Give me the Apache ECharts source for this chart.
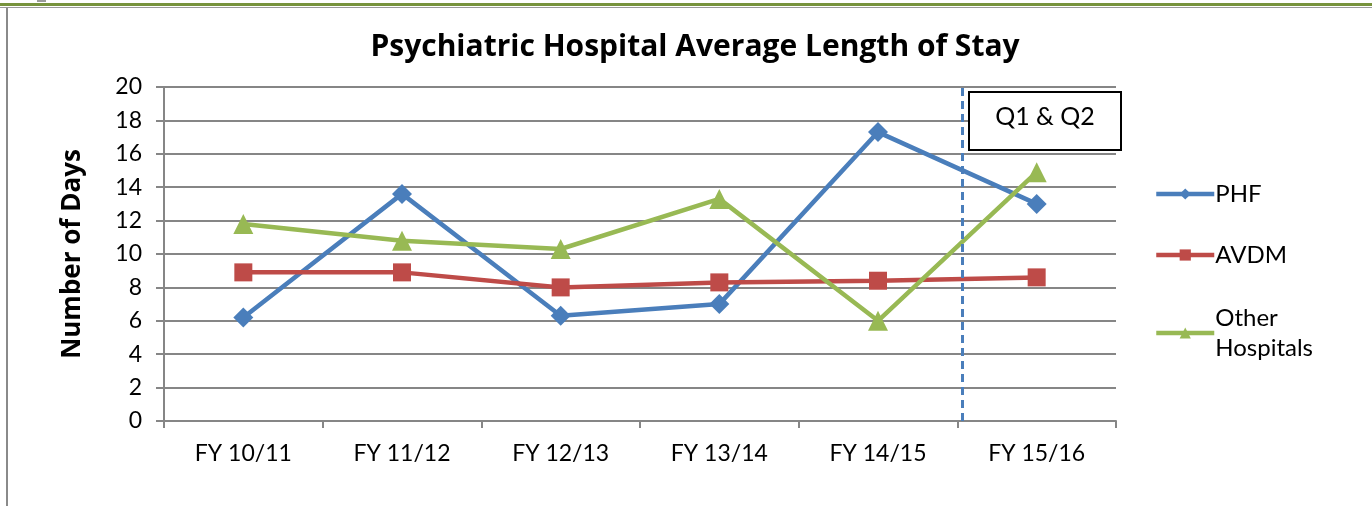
<!DOCTYPE html>
<html>
<head>
  <meta charset="utf-8">
  <title>Psychiatric Hospital Average Length of Stay</title>
  <script src="https://cdn.jsdelivr.net/npm/echarts@6/dist/echarts.min.js"></script>
  <style>
    html, body { margin: 0; padding: 0; background: #fff; }
    #chart { width: 1372px; height: 506px; }
  </style>
</head>
<body>
<div id="chart"></div>
<script>
  // data
  var categories = ['FY 10/11', 'FY 11/12', 'FY 12/13', 'FY 13/14', 'FY 14/15', 'FY 15/16'];
  var phf = [6.2, 13.6, 6.3, 7.0, 17.3, 13.0];
  var avdm = [8.9, 8.9, 8.0, 8.3, 8.4, 8.6];
  var otherHospitals = [11.8, 10.8, 10.3, 13.3, 6.0, 14.9];
  var dividerAt = 5.03; // between FY 14/15 and FY 15/16, on a 0..6 scale

  var font = 'Lato, "DejaVu Sans", sans-serif';
  var boldFont = '"Open Sans", Lato, sans-serif';

  var chart = echarts.init(document.getElementById('chart'));

  function lineSeries(name, data, color, symbol, size) {
    return {
      name: name,
      type: 'line',
      data: data,
      symbol: symbol,
      symbolSize: size,
      lineStyle: { width: 4.5, color: color },
      itemStyle: { color: color },
      animation: false
    };
  }

  // one legend block per series so "Other Hospitals" can hang below its icon
  function legendAt(name, top, padTop) {
    return {
      orient: 'vertical',
      left: 1149,
      top: top,
      itemWidth: 58,
      itemHeight: 14,
      lineStyle: { width: 4.5 },
      textStyle: {
        fontFamily: font, fontSize: 24, color: '#000',
        lineHeight: 30, padding: [padTop, 0, 0, -4]
      },
      data: [name]
    };
  }

  var option = {
    animation: false,
    title: {
      text: 'Psychiatric Hospital Average Length of Stay',
      left: 690,
      textAlign: 'center',
      top: 27,
      textStyle: { fontFamily: boldFont, fontSize: 30, fontWeight: 'bold', color: '#000' }
    },
    grid: { left: 164, right: 256, top: 87, bottom: 85 },
    legend: [
      legendAt('PHF', 174, 0),
      legendAt('AVDM', 235, 0),
      legendAt('Other\nHospitals', 283, 30)
    ],
    xAxis: [{
      type: 'category',
      data: categories,
      boundaryGap: true,
      axisLine: { lineStyle: { color: '#868686', width: 2 } },
      axisTick: { show: true, length: 7, lineStyle: { color: '#868686', width: 2 } },
      axisLabel: { fontFamily: font, fontSize: 23, color: '#000', margin: 21 }
    }, {
      type: 'value',
      min: 0,
      max: 6,
      show: false
    }],
    yAxis: {
      type: 'value',
      min: 0,
      max: 20,
      interval: 2,
      name: 'Number of Days',
      nameLocation: 'middle',
      nameGap: 78,
      nameRotate: 90,
      nameTextStyle: { fontFamily: boldFont, fontSize: 26, fontWeight: 'bold', color: '#000' },
      axisLine: { show: true, lineStyle: { color: '#868686', width: 2 } },
      axisTick: { show: true, length: 8, lineStyle: { color: '#868686', width: 2 } },
      axisLabel: { fontFamily: font, fontSize: 23, color: '#000', margin: 22 },
      splitLine: { lineStyle: { color: '#868686', width: 2 } }
    },
    series: [
      lineSeries('PHF', phf, '#4A7EBB', 'diamond', 20),
      lineSeries('AVDM', avdm, '#BE4B48', 'rect', 18),
      lineSeries('Other\nHospitals', otherHospitals, '#98B954', 'triangle', 20),
      {
        type: 'line',
        xAxisIndex: 1,
        data: [],
        silent: true,
        markLine: {
          symbol: 'none',
          label: { show: false },
          lineStyle: { color: '#4A7EBB', width: 3, type: [8, 5] },
          data: [{ xAxis: dividerAt }]
        }
      }
    ],
    graphic: [
      { type: 'rect', shape: { x: 0, y: 3, width: 1372, height: 3 }, style: { fill: '#77933C' } },
      { type: 'rect', shape: { x: 0, y: 7, width: 1372, height: 1 }, style: { fill: '#9a9a9a' } },
      { type: 'rect', shape: { x: 37, y: 0, width: 9, height: 2 }, style: { fill: '#9a9a9a' } },
      { type: 'rect', shape: { x: 6, y: 8, width: 2, height: 498 }, style: { fill: '#8a8a8a' } },
      {
        type: 'rect',
        shape: { x: 969, y: 92, width: 152, height: 58 },
        style: { fill: '#fff', stroke: '#000', lineWidth: 2 },
        z: 10
      },
      {
        type: 'text',
        x: 1045,
        y: 117,
        z: 11,
        style: {
          text: 'Q1 & Q2',
          fontFamily: font,
          fontSize: 25,
          fill: '#000',
          align: 'center',
          verticalAlign: 'middle'
        }
      }
    ]
  };

  chart.setOption(option);
</script>
</body>
</html>
